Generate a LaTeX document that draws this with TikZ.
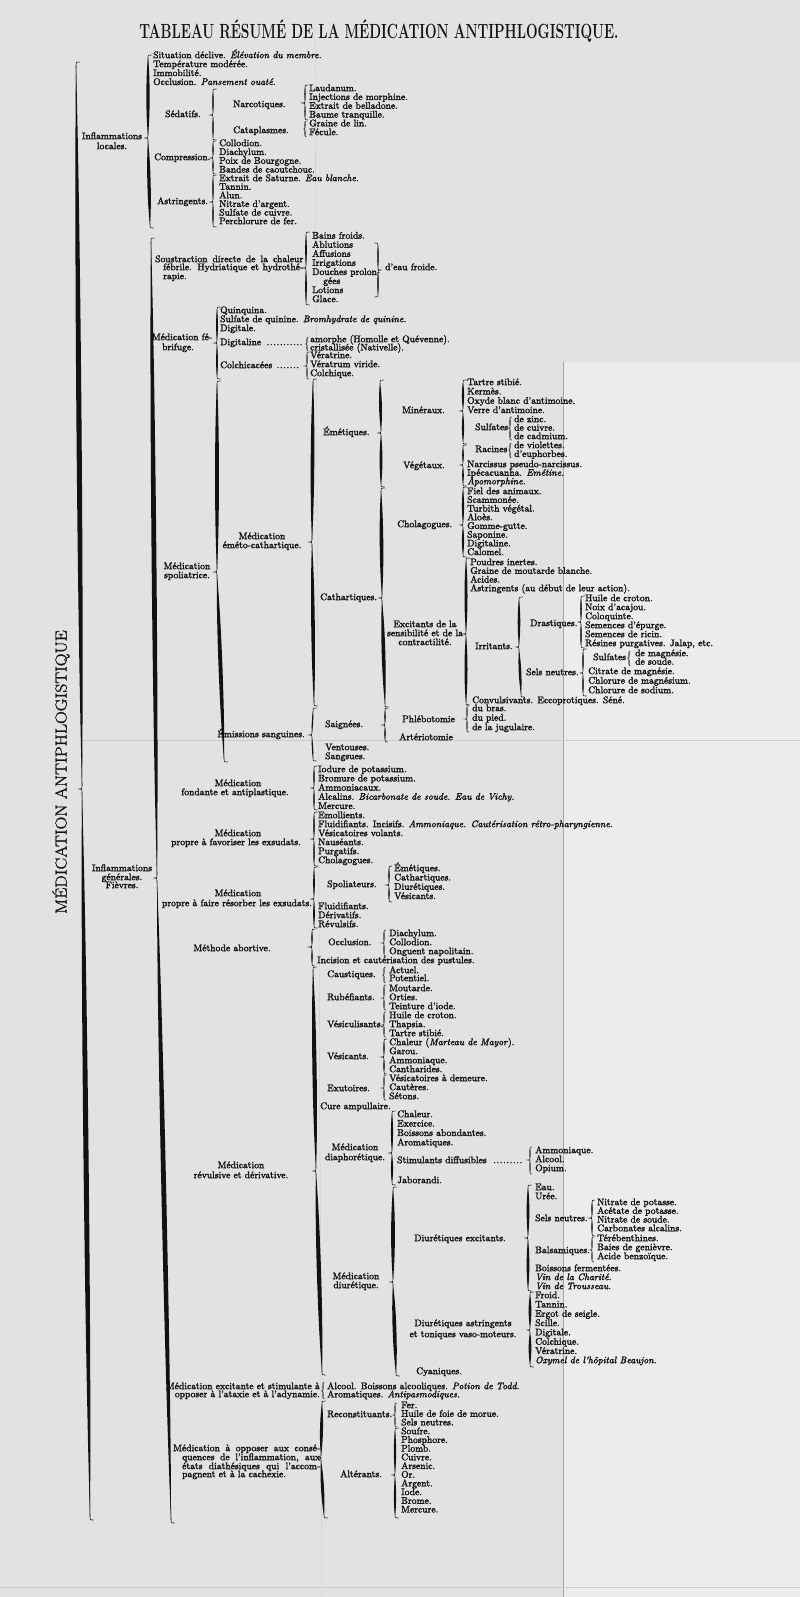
\documentclass[tikz,border=0pt]{standalone}
\usepackage{graphicx}
\usetikzlibrary{calc}
\definecolor{paper}{RGB}{226,226,226}
\definecolor{paper2}{RGB}{236,236,236}
\definecolor{ink}{RGB}{18,18,18}
\newcommand\heavy{\special{pdf:literal direct 2 Tr 0.22 w}}
\tikzset{
 tx/.style={anchor=mid west, inner sep=0pt, text=ink, font=\fontsize{9.6}{9}\selectfont\heavy},
 txc/.style={tx, anchor=mid},
 txr/.style={tx, anchor=mid east},
}
\newcommand\dl{\leaders\hbox to 3.3pt{\hss.\hss}\hfill}
% brace: dir, x1,y1, xm,ym, x2,y2, w
\newcommand\brc[8]{%
 \pgfmathsetmacro\hkA{min(3.5,((#5)-(#3))/6)}%
 \pgfmathsetmacro\hkB{min(3.5,((#7)-(#5))/6)}%
 \pgfmathsetmacro\hk{min(\hkA,\hkB)}%
 \pgfmathsetmacro\xa{#2+(#1)*\hk}%
 \pgfmathsetmacro\xb{#4-(#1)*\hk}%
 \pgfmathsetmacro\xc{#6+(#1)*\hk}%
 \coordinate (bA) at (#2,#3+\hk);
 \coordinate (bB) at (#4,#5-\hk);
 \coordinate (bC) at (#4,#5+\hk);
 \coordinate (bD) at (#6,#7-\hk);
 \draw[ink, line width=0.55pt] (\xa,#3) .. controls (#2,#3) .. (bA) -- (bB) .. controls (#4,#5) .. (\xb,#5) .. controls (#4,#5) .. (bC) -- (bD) .. controls (#6,#7) .. (\xc,#7);
 \fill[ink] (bA) .. controls ($(bA)!0.22!(bB)+(-#8,0)$) and ($(bA)!0.78!(bB)+(-#8,0)$) .. (bB) .. controls ($(bA)!0.78!(bB)+(#8,0)$) and ($(bA)!0.22!(bB)+(#8,0)$) .. (bA) -- cycle;
 \fill[ink] (bC) .. controls ($(bC)!0.22!(bD)+(-#8,0)$) and ($(bC)!0.78!(bD)+(-#8,0)$) .. (bD) .. controls ($(bC)!0.78!(bD)+(#8,0)$) and ($(bC)!0.22!(bD)+(#8,0)$) .. (bC) -- cycle;
}
% items: name, x, y0, dy, list
\newcommand\items[5]{%
 \foreach \s [count=\i] in {#5} {\node[tx] (#1\i) at (#2,{#3+(\i-1)*#4}) {\s};}%
}
\begin{document}
\begin{tikzpicture}[x=1pt,y=-1pt]
\useasboundingbox (0,0) rectangle (800,1597);
\fill[paper] (0,0) rectangle (800,1597);
\fill[paper2] (563,362) rectangle (800,1597);
\draw[gray!70, line width=0.4pt] (563,362) -- (563,1597);
\draw[gray!40, line width=0.4pt] (315,30) -- (322,1597);
\draw[gray!40, line width=0.4pt] (80,740) -- (800,740);
\draw[gray!40, line width=0.4pt] (0,1587) -- (800,1587);

% title and vertical text
\node[inner sep=0pt, anchor=base, text=ink] (title) at (379,39) {\scalebox{0.67}[1]{\fontsize{20.5}{20}\selectfont\bfseries TABLEAU RÉSUMÉ DE LA MÉDICATION ANTIPHLOGISTIQUE.}};
\node[rotate=90, inner sep=0pt, text=ink] (vt) at (61,772) {\scalebox{1.1}[1]{\fontsize{16}{16}\selectfont\heavy MÉDICATION ANTIPHLOGISTIQUE}};

% big braces
\brc{1}{76}{62}{82}{789}{90}{1520}{3.4}
\brc{1}{148}{55}{148}{138}{150}{228}{2.2}
\brc{1}{151}{238}{157}{878}{171}{1523}{3.2}

% Inflammations locales
\node[txc] (il1) at (112,137) {Inflammations};
\node[txc] (il2) at (112,147) {locales.};
\items{loc}{153}{56}{8.95}{Situation déclive. \textit{Élévation du membre.}, Température modérée., Immobilité., Occlusion. \textit{Pansement ouaté.}}
\node[tx] (sed) at (165,115) {Sédatifs.};
\brc{1}{213}{89}{213}{115}{213}{140}{0.9}
\node[tx] (narc) at (233,105) {Narcotiques.};
\node[tx] (cata) at (233,131) {Cataplasmes.};
\brc{1}{305}{85}{305}{103}{305}{120}{0.7}
\brc{1}{305}{121}{305}{129}{305}{137}{0.5}
\items{nar}{309}{89}{8.8}{Laudanum., Injections de morphine., Extrait de belladone., Baume tranquille., Graine de lin., Fécule.}
\node[tx] (compr) at (154,158) {Compression.};
\brc{1}{213}{141}{213}{158}{213}{174}{0.8}
\items{comp}{219}{144}{8.8}{Collodion., Diachylum., Poix de Bourgogne., Bandes de caoutchouc.}
\node[tx] (astr) at (157,202) {Astringents.};
\brc{1}{213}{175}{213}{202}{213}{227}{0.9}
\items{ast}{219}{179}{8.6}{Extrait de Saturne. \textit{Eau blanche.}, Tannin., Alun., Nitrate d'argent., Sulfate de cuivre., Perchlorure de fer.}

% Inflammations generales
\node[txc] (ig1) at (122,869) {Inflammations};
\node[txc] (ig2) at (122,878) {générales.};
\node[txc] (ig3) at (122,886) {Fièvres.};

% Soustraction
\node[tx] (so1) at (155,260) {\makebox[148pt][s]{Soustraction directe de la chaleur}};
\node[tx] (so2) at (163,268) {\makebox[140pt][s]{fébrile. Hydriatique et hydrothé-}};
\node[tx] (so3) at (163,277) {rapie.};
\brc{1}{306}{232}{306}{268}{306}{305}{1.1}
\items{bain}{312}{236.5}{9.07}{Bains froids., Ablutions, Affusions, Irrigations, Douches prolon-, {\hspace*{11pt}gées}, Lotions, Glace.}
\brc{-1}{378}{243}{378}{270}{378}{297}{0.9}
\node[tx] (eau) at (385,268) {d'eau froide.};

% febrifuge
\node[txc] (fe1) at (182,338) {Médication fé-};
\node[txc] (fe2) at (178,348) {brifuge.};
\brc{1}{217}{307}{217}{343}{217}{379}{1.2}
\items{feb}{220}{311}{9}{Quinquina., Sulfate de quinine. \textit{Bromhydrate de quinine.}, Digitale.}
\node[tx] (dgt) at (220,343) {\hbox to 83pt{Digitaline\ \dl}};
\node[tx] (clc) at (220,366) {\hbox to 82pt{Colchicacées\ \dl}};
\brc{1}{307}{337}{307}{344}{307}{351}{0.4}
\brc{1}{307}{352}{307}{366}{307}{379}{0.6}
\items{dig}{310}{340}{8.3}{amorphe (Homolle et Quévenne)., cristallisée (Nativelle).}
\items{col}{310}{356}{9}{Vératrine., Vératrum viride., Colchique.}

% spoliatrice
\node[txc] (sp1) at (187,567) {Médication};
\node[txc] (sp2) at (187,576) {spoliatrice.};
\brc{1}{217}{381}{217}{572}{224}{762}{2.6}
\node[txc] (em1) at (262,537) {Médication};
\node[txc] (em2) at (262,546) {éméto-cathartique.};
\brc{1}{313}{379}{312}{542}{314}{706}{2.4}
\node[txr] (ems) at (305,735) {Émissions sanguines.};
\brc{1}{313}{708}{312}{735}{313}{761}{0.9}

\node[tx] (emet) at (323,433) {Émétiques.};
\brc{1}{380}{380}{381}{433}{381}{487}{1.9}
\node[tx] (cath) at (320,598) {Cathartiques.};
\brc{1}{381}{488}{382}{598}{385}{707}{2.4}
\node[tx] (mine) at (402,411) {Minéraux.};
\brc{1}{463}{380}{463}{411}{463}{444}{1.4}
\node[tx] (vege) at (403,466) {Végétaux.};
\brc{1}{463}{445}{463}{465}{463}{486}{1.1}
\node[tx] (chola) at (397,525) {Cholagogues.};
\brc{1}{463}{487}{463}{525}{463}{557}{1.4}
\items{min}{467}{383}{9.3}{Tartre stibié., Kermès., Oxyde blanc d'antimoine., Verre d'antimoine.}
\node[tx] (sulf) at (475,428) {Sulfates};
\brc{1}{510}{417}{510}{428}{510}{440}{0.5}
\items{sul}{514}{420}{8.5}{de zinc., de cuivre., de cadmium.}
\node[tx] (raci) at (475,450) {Racines};
\brc{1}{510}{443}{510}{450}{510}{458}{0.4}
\items{rac}{514}{446}{8.8}{de violettes., d'euphorbes.}
\items{veg}{467}{465}{8.6}{Narcissus pseudo-narcissus., Ipécacuanha. \textit{Emétine.}, \textit{Apomorphine.}}
\items{cho}{467}{492}{8.7}{Fiel des animaux., Scammonée., Turbith végétal., Aloès., Gomme-gutte., Saponine., Digitaline., Calomel.}
\node[txc] (ex1) at (425,625) {Excitants de la};
\node[txc] (ex2) at (425,634) {sensibilité et de la};
\node[txc] (ex3) at (425,643) {contractilité.};
\brc{1}{466}{558}{466}{634}{466}{705}{2}
\items{exc}{470}{563}{8.7}{Poudres inertes., Graine de moutarde blanche., Acides., Astringents (au début de leur action).}
\node[tx] (irri) at (475,647) {Irritants.};
\brc{1}{519}{597}{519}{647}{521}{697}{1.7}
\node[tx] (dras) at (530,624) {Drastiques.};
\brc{1}{581}{596}{581}{622}{581}{648}{1}
\items{dra}{585}{599}{9}{Huile de croton., Noix d'acajou., Coloquinte., Semences d'épurge., Semences de ricin., {Résines purgatives. Jalap, etc.}}
\node[tx] (seln) at (526,673) {Sels neutres.};
\brc{1}{583}{649}{583}{673}{583}{696}{1}
\node[tx] (sulf2) at (593,658) {Sulfates};
\brc{1}{629}{651}{629}{658}{629}{666}{0.4}
\items{sug}{635}{654}{8.5}{de magnésie., de soude.}
\items{sel}{588}{672}{9.5}{Citrate de magnésie., Chlorure de magnésium., Chlorure de sodium.}
\node[tx] (conv) at (472,701) {Convulsivants. Eccoprotiques. Séné.};

\node[tx] (saig) at (325,725) {Saignées.};
\brc{1}{385}{708}{385}{725}{385}{742}{0.8}
\node[tx] (phle) at (402,720) {Phlébotomie};
\brc{1}{467}{705}{467}{719}{467}{732}{0.6}
\items{phl}{472}{709}{9.5}{du bras., du pied., de la jugulaire.}
\node[tx] (arte) at (399,738) {Artériotomie};
\items{ven}{325}{748}{9}{Ventouses., Sangsues.}

% fondante etc
\node[txc] (fo1) at (238,784) {Médication};
\node[txc] (fo2) at (235,793) {fondante et antiplastique.};
\brc{1}{314}{766}{314}{788}{314}{810}{0.9}
\items{fon}{318}{770}{9.2}{Iodure de potassium., Bromure de potassium., Ammoniacaux., Alcalins. \textit{Bicarbonate de soude. Eau de Vichy.}, Mercure.}
\node[txc] (fa1) at (238,834) {Médication};
\node[txc] (fa2) at (236,843) {propre à favoriser les exsudats.};
\brc{1}{314}{812}{314}{839}{314}{866}{1}
\items{fav}{318}{816}{9}{Emollients., Fluidifiants. Incisifs. \textit{Ammoniaque. Cautérisation rétro-pharyngienne.}, Vésicatoires volants., Nauséants., Purgatifs., Cholagogues.}
\node[txc] (re1) at (238,894) {Médication};
\node[txc] (re2) at (237,904) {propre à faire résorber les exsudats.};
\brc{1}{314}{867}{314}{899}{314}{928}{1.1}
\node[tx] (spol) at (327,885) {Spoliateurs.};
\brc{1}{389}{866}{389}{885}{389}{902}{0.8}
\items{spo}{394}{869}{9.3}{Émétiques., Cathartiques., Diurétiques., Vésicants.}
\items{res}{318}{907}{9}{Fluidifiants., Dérivatifs., Révulsifs.}
\node[txc] (abor) at (232,949) {Méthode abortive.};
\brc{1}{312}{929}{312}{947}{312}{966}{0.8}
\node[tx] (occl) at (328,943) {Occlusion.};
\brc{1}{384}{930}{384}{943}{384}{956}{0.6}
\items{occ}{389}{934}{9}{Diachylum., Collodion., Onguent napolitain.}
\node[tx] (inci) at (317,961) {Incision et cautérisation des pustules.};

% revulsive
\node[txc] (rv1) at (241,1166) {Médication};
\node[txc] (rv2) at (241,1176) {révulsive et dérivative.};
\brc{1}{313}{967}{316}{1171}{322}{1375}{2.8}
\node[tx] (caus) at (327,975) {Caustiques.};
\brc{1}{384}{967}{384}{975}{384}{983}{0.4}
\items{cau}{389}{971}{8}{Actuel., Potentiel.}
\node[tx] (rube) at (327,998) {Rubéfiants.};
\brc{1}{384}{985}{384}{998}{384}{1010}{0.6}
\items{rub}{389}{989}{9}{Moutarde., Orties., Teinture d'iode.}
\node[tx] (vesl) at (327,1025) {Vésiculisants.};
\brc{1}{384}{1012}{384}{1025}{384}{1037}{0.6}
\items{vsl}{389}{1016}{9}{Huile de croton., Thapsia., Tartre stibié.}
\node[tx] (vesc) at (327,1057) {Vésicants.};
\brc{1}{384}{1039}{384}{1057}{384}{1074}{0.8}
\items{vsc}{389}{1043}{9}{Chaleur (\textit{Marteau de Mayor})., Garou., Ammoniaque., Cantharides.}
\node[tx] (exut) at (327,1089) {Exutoires.};
\brc{1}{384}{1075}{384}{1088}{384}{1100}{0.6}
\items{exu}{389}{1079}{9}{Vésicatoires à demeure., Cautères., Sétons.}
\node[tx] (cure) at (320,1107) {Cure ampullaire.};

\node[txc] (dp1) at (355,1148) {Médication};
\node[txc] (dp2) at (355,1158) {diaphorétique.};
\brc{1}{392}{1111}{392}{1153}{392}{1185}{1.4}
\items{dia}{397}{1115}{9.4}{Chaleur., Exercice., Boissons abondantes., Aromatiques.}
\node[tx] (stim) at (397,1161) {\hbox to 128pt{Stimulants diffusibles\ \dl}};
\node[tx] (jabo) at (397,1181) {Jaborandi.};
\brc{1}{530}{1147}{530}{1160}{530}{1174}{0.6}
\items{sti}{535}{1151}{9}{Ammoniaque., Alcool., Opium.}

\node[txc] (du1) at (356,1277) {Médication};
\node[txc] (du2) at (356,1286) {diurétique.};
\brc{1}{393}{1187}{393}{1282}{396}{1376}{2.5}
\node[txc] (dex) at (460,1239) {Diurétiques excitants.};
\brc{1}{528}{1185}{528}{1238}{528}{1291}{1.8}
\items{eau}{535}{1188}{9}{Eau., Urée.}
\node[tx] (sn2) at (535,1219) {Sels neutres.};
\brc{1}{592}{1200}{592}{1218}{592}{1236}{0.8}
\items{sln}{597}{1203}{8.7}{Nitrate de potasse., Acétate de potasse., Nitrate de soude., Carbonates alcalins.}
\node[tx] (bals) at (535,1251) {Balsamiques.};
\brc{1}{592}{1237}{592}{1250}{592}{1262}{0.6}
\items{bal}{597}{1239}{9}{Térébenthines., Baies de genièvre., Acide benzoïque.}
\items{fer}{535}{1269}{9}{Boissons fermentées., \textit{Vin de la Charité.}, \textit{Vin de Trousseau.}}
\node[txc] (da1) at (463,1324) {Diurétiques astringents};
\node[txc] (da2) at (463,1335) {et toniques vaso-moteurs.};
\brc{1}{530}{1292}{530}{1330}{530}{1367}{1.8}
\items{asd}{535}{1296}{9.3}{Froid., Tannin., Ergot de seigle., Scille., Digitale., Colchique., Vératrine., \textit{Oxymel de l'hôpital Beaujon.}}
\node[txc] (cyan) at (439,1372) {Cyaniques.};

% excitante
\node[txr] (xc1) at (320,1387) {Médication excitante et stimulante à};
\node[txr] (xc2) at (320,1395) {opposer à l'ataxie et à l'adynamie.};
\brc{1}{323}{1382}{323}{1391}{323}{1399}{0.4}
\items{alc}{327}{1387}{8.2}{Alcool. Boissons alcooliques. \textit{Potion de Todd.}, Aromatiques. \textit{Antipasmodiques.}}

% consequences
\node[tx] (cq1) at (173,1449) {\makebox[147pt][s]{Médication à opposer aux consé-}};
\node[tx] (cq2) at (182,1458) {\makebox[138pt][s]{quences de l'inflammation, aux}};
\node[tx] (cq3) at (182,1467) {\makebox[138pt][s]{états diathésiques qui l'accom-}};
\node[tx] (cq4) at (182,1475) {pagnent et à la cachexie.};
\brc{1}{322}{1401}{321}{1458}{324}{1518}{2}
\node[tx] (reco) at (327,1415) {Reconstituants.};
\brc{1}{395}{1403}{395}{1415}{395}{1427}{0.6}
\items{rec}{401}{1406}{8.6}{Fer., Huile de foie de morue., Sels neutres.}
\node[tx] (alte) at (340,1475) {Altérants.};
\brc{1}{395}{1428}{395}{1475}{395}{1518}{1.5}
\items{alt}{401}{1432}{8.7}{Soufre., Phosphore., Plomb., Cuivre., Arsenic., Or., Argent., Iode., Brome., Mercure.}
\end{tikzpicture}
\end{document}
